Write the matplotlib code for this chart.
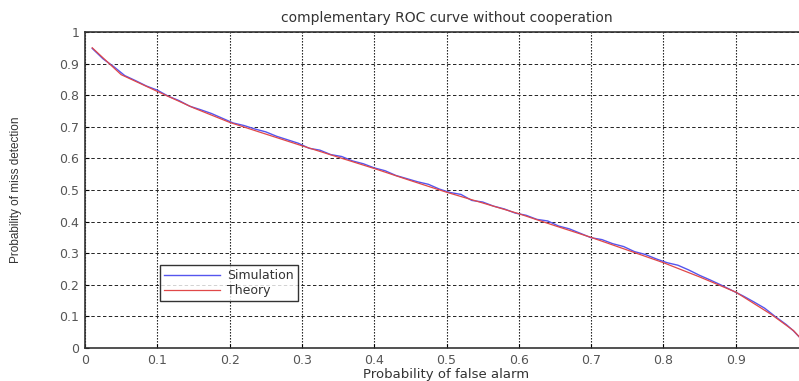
import matplotlib
matplotlib.use("Agg")
import matplotlib.pyplot as plt
import numpy as np

# theory curve
pf_theory = [0.01, 0.05, 0.10, 0.15, 0.20, 0.25, 0.30, 0.35, 0.40, 0.45, 0.50,
             0.55, 0.60, 0.65, 0.70, 0.75, 0.80, 0.85, 0.90, 0.95, 0.98, 0.99, 1.0]
pm_theory = [0.950, 0.865, 0.812, 0.760, 0.714, 0.677, 0.640, 0.604, 0.568, 0.530, 0.493,
             0.459, 0.425, 0.387, 0.350, 0.310, 0.270, 0.225, 0.177, 0.105, 0.055, 0.030, 0.0]

# simulation curve, a bit wiggly around theory
pf_sim = [0.01, 0.025, 0.04, 0.055, 0.07, 0.085, 0.10, 0.115, 0.13, 0.145, 0.16, 0.175,
          0.19, 0.205, 0.22, 0.235, 0.25, 0.265, 0.28, 0.295, 0.31, 0.325, 0.34, 0.355,
          0.37, 0.385, 0.40, 0.415, 0.43, 0.445, 0.46, 0.475, 0.49, 0.505, 0.52, 0.535,
          0.55, 0.565, 0.58, 0.595, 0.61, 0.625, 0.64, 0.655, 0.67, 0.685, 0.70, 0.715,
          0.73, 0.745, 0.76, 0.775, 0.79, 0.805, 0.82, 0.835, 0.85, 0.865, 0.88, 0.895,
          0.91, 0.925, 0.94, 0.955, 0.97, 0.98, 0.99]
pm_sim = [0.948, 0.915, 0.890, 0.862, 0.846, 0.829, 0.816, 0.797, 0.783, 0.765, 0.754, 0.742,
          0.727, 0.712, 0.704, 0.693, 0.684, 0.670, 0.659, 0.648, 0.632, 0.626, 0.612, 0.606,
          0.592, 0.583, 0.570, 0.561, 0.546, 0.536, 0.526, 0.518, 0.503, 0.492, 0.486, 0.467,
          0.462, 0.449, 0.440, 0.427, 0.420, 0.407, 0.402, 0.386, 0.377, 0.363, 0.349, 0.343,
          0.330, 0.321, 0.305, 0.296, 0.282, 0.270, 0.262, 0.247, 0.230, 0.215, 0.199, 0.182,
          0.165, 0.146, 0.126, 0.099, 0.074, 0.054, 0.030]

ticks = [0, 0.1, 0.2, 0.3, 0.4, 0.5, 0.6, 0.7, 0.8, 0.9, 1]
x_tick_labels = ["0", "0.1", "0.2", "0.3", "0.4", "0.5", "0.6", "0.7", "0.8", "0.9", ""]
y_tick_labels = ["0", "0.1", "0.2", "0.3", "0.4", "0.5", "0.6", "0.7", "0.8", "0.9", "1"]

plt.rcParams['font.family'] = ['DejaVu Sans']

fig = plt.figure(figsize=(7.99, 3.81), dpi=100)
ax = fig.add_axes([85 / 799, 33 / 381, 723 / 799, 316 / 381])

ax.plot(pf_sim, pm_sim, color='#5555ee', lw=1.0, label='Simulation')
ax.plot(pf_theory, pm_theory, color='#e04848', lw=0.9, label='Theory')

ax.set_xlim(0, 1)
ax.set_ylim(0, 1)
ax.set_xticks(ticks)
ax.set_xticklabels(x_tick_labels)
ax.set_yticks(ticks)
ax.set_yticklabels(y_tick_labels)
ax.tick_params(labelsize=9, labelcolor='#555555', direction='in', length=3, pad=4)

ax.xaxis.grid(True, color='black', linestyle=(0, (1.2, 1.5)), lw=0.8)
ax.yaxis.grid(True, color='#222222', linestyle=(0, (3.5, 2.5)), lw=0.7)
for sp in ax.spines.values():
    sp.set_color('#333333')
    sp.set_linewidth(1.2)

ax.set_title('complementary ROC curve without cooperation', fontsize=10,
             color='#333333', pad=7)
ax.set_xlabel('Probability of false alarm', fontsize=9.5, color='#333333', labelpad=1)
ax.set_ylabel('Probability of miss detection', fontsize=8.5, color='#333333',
              family='Liberation Sans', labelpad=27)

leg = ax.legend(loc='lower left', bbox_to_anchor=(0.095, 0.13), fontsize=9,
                frameon=True, fancybox=False, borderpad=0.3, handlelength=4.5,
                handletextpad=0.6, labelspacing=0.15)
leg.get_frame().set_edgecolor('black')
leg.get_frame().set_linewidth(1.0)
for t in leg.get_texts():
    t.set_color('#333333')

fig.savefig('out.png', dpi=100)
